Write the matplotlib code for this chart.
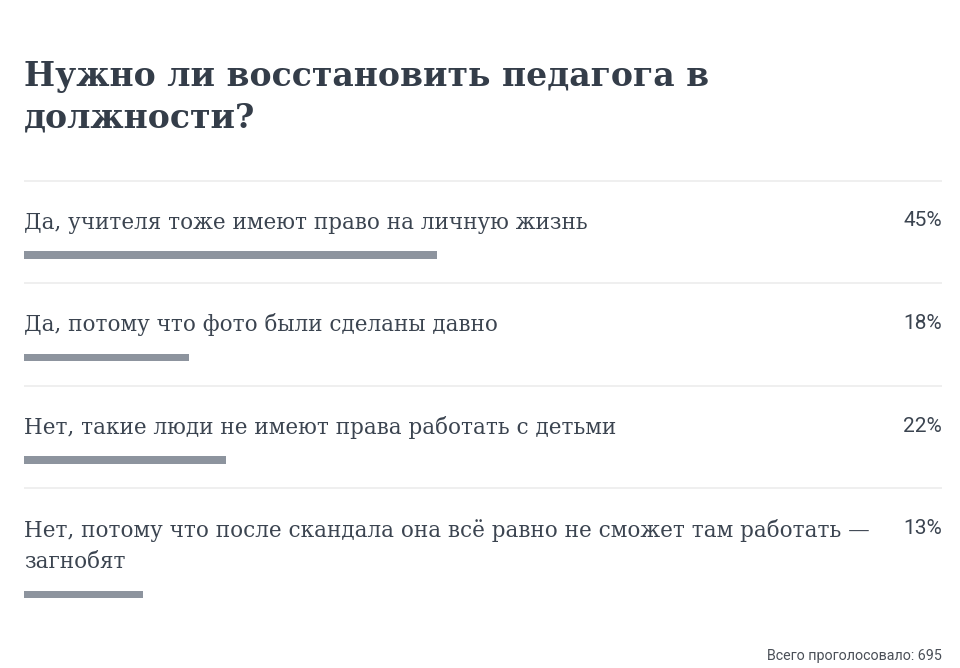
import matplotlib
matplotlib.use("Agg")
import matplotlib.pyplot as plt

# poll data
title_lines = ["Нужно ли восстановить педагога в", "должности?"]
options = [
    ["Да, учителя тоже имеют право на личную жизнь"],
    ["Да, потому что фото были сделаны давно"],
    ["Нет, такие люди не имеют права работать с детьми"],
    ["Нет, потому что после скандала она всё равно не сможет там работать —", "загнобят"],
]
percents = [45, 18, 22, 13]
total_votes = 695

TEXT = "#3b4450"
TITLE = "#343d49"
BAR = "#8d949e"
RULE = "#ececec"

W, H = 960, 668
fig = plt.figure(figsize=(W / 100, H / 100), dpi=100)
fig.patch.set_facecolor("white")

# x: percent (0..100 spans px 24..942), y: pixel rows from the top
ax = fig.add_axes([24 / W, 0, 918 / W, 1])
ax.set_xlim(0, 100)
ax.set_ylim(H, 0)
ax.axis("off")

serif = "DejaVu Serif"
sans = "Roboto"

# title
ax.text(0, 86, title_lines[0], fontsize=23.8, fontweight="bold", family=serif,
        color=TITLE, va="baseline")
ax.text(0, 127, title_lines[1], fontsize=23.8, fontweight="bold", family=serif,
        color=TITLE, va="baseline")

row_top = 180.5
line_gap = 32
for lines, pct in zip(options, percents):
    ax.hlines(row_top, 0, 100, color=RULE, lw=1.2)
    for j, line in enumerate(lines):
        ax.text(0, row_top + 48.5 + j * (line_gap - 1), line, fontsize=15.5, family=serif,
                color=TEXT, va="baseline")
    ax.text(100, row_top + 46, f"{pct}%", fontsize=15, family=sans,
            color=TEXT, va="baseline", ha="right")
    extra = (len(lines) - 1) * line_gap
    ax.barh(row_top + 74.5 + extra, pct, height=7.5, left=0, color=BAR)
    row_top += 102.5 + extra

ax.text(100, 660, f"Всего проголосовало: {total_votes}", fontsize=10.3, family=sans,
        color="#4a4f57", va="baseline", ha="right")

fig.savefig("out.png", dpi=100, facecolor="white")
